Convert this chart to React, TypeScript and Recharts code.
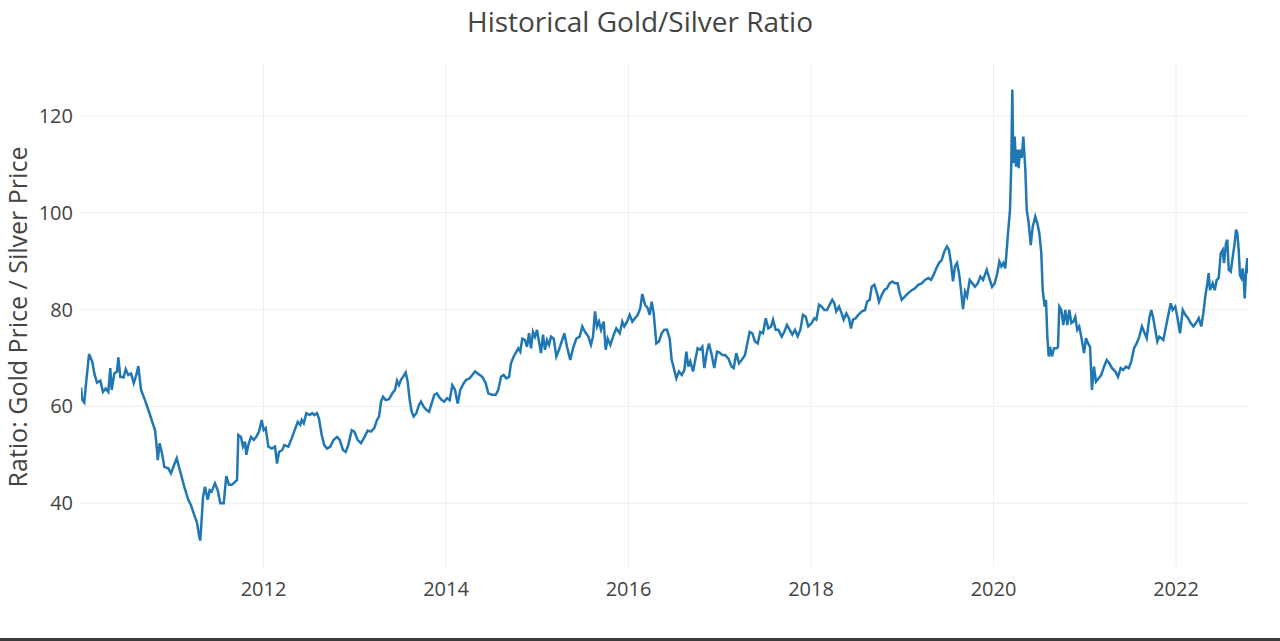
import React from 'react';
import { LineChart, Line, XAxis, YAxis, CartesianGrid } from 'recharts';

// decimal years
const years: number[] = [
    2010.000, 2010.014, 2010.036, 2010.052, 2010.088, 2010.124, 2010.146, 2010.175, 2010.212, 2010.241,
    2010.271, 2010.299, 2010.321, 2010.336, 2010.365, 2010.395, 2010.409, 2010.431, 2010.468, 2010.490,
    2010.518, 2010.548, 2010.578, 2010.606, 2010.628, 2010.658, 2010.701, 2010.745, 2010.781, 2010.811,
    2010.833, 2010.841, 2010.862, 2010.891, 2010.913, 2010.957, 2010.986, 2011.016, 2011.049, 2011.088,
    2011.132, 2011.176, 2011.205, 2011.235, 2011.271, 2011.293, 2011.307, 2011.323, 2011.337, 2011.359,
    2011.388, 2011.410, 2011.432, 2011.468, 2011.498, 2011.527, 2011.564, 2011.592, 2011.622, 2011.652,
    2011.688, 2011.710, 2011.724, 2011.753, 2011.775, 2011.797, 2011.812, 2011.833, 2011.863, 2011.893,
    2011.921, 2011.951, 2011.980, 2012.002, 2012.024, 2012.053, 2012.090, 2012.126, 2012.148, 2012.170,
    2012.206, 2012.228, 2012.272, 2012.309, 2012.375, 2012.403, 2012.419, 2012.441, 2012.469, 2012.506,
    2012.535, 2012.557, 2012.586, 2012.608, 2012.638, 2012.666, 2012.696, 2012.732, 2012.769, 2012.806,
    2012.835, 2012.871, 2012.901, 2012.929, 2012.967, 2012.995, 2013.032, 2013.068, 2013.105, 2013.142,
    2013.178, 2013.214, 2013.244, 2013.266, 2013.288, 2013.310, 2013.339, 2013.375, 2013.412, 2013.441,
    2013.463, 2013.485, 2013.507, 2013.529, 2013.558, 2013.580, 2013.602, 2013.624, 2013.646, 2013.675,
    2013.704, 2013.726, 2013.756, 2013.784, 2013.814, 2013.843, 2013.872, 2013.901, 2013.923, 2013.953,
    2013.981, 2014.011, 2014.041, 2014.069, 2014.099, 2014.128, 2014.157, 2014.194, 2014.222, 2014.260,
    2014.288, 2014.318, 2014.354, 2014.398, 2014.435, 2014.464, 2014.501, 2014.545, 2014.573, 2014.603,
    2014.632, 2014.661, 2014.691, 2014.712, 2014.742, 2014.792, 2014.814, 2014.836, 2014.866, 2014.888,
    2014.910, 2014.932, 2014.953, 2014.975, 2014.997, 2015.019, 2015.041, 2015.063, 2015.085, 2015.107,
    2015.129, 2015.151, 2015.180, 2015.209, 2015.238, 2015.268, 2015.297, 2015.326, 2015.362, 2015.392,
    2015.428, 2015.465, 2015.494, 2015.523, 2015.560, 2015.589, 2015.611, 2015.633, 2015.655, 2015.677,
    2015.699, 2015.728, 2015.750, 2015.772, 2015.801, 2015.838, 2015.866, 2015.904, 2015.932, 2015.954,
    2015.984, 2016.013, 2016.042, 2016.071, 2016.101, 2016.129, 2016.151, 2016.181, 2016.210, 2016.232,
    2016.254, 2016.276, 2016.305, 2016.334, 2016.364, 2016.392, 2016.422, 2016.451, 2016.473, 2016.502,
    2016.524, 2016.553, 2016.583, 2016.612, 2016.634, 2016.655, 2016.677, 2016.707, 2016.729, 2016.758,
    2016.787, 2016.809, 2016.831, 2016.860, 2016.882, 2016.912, 2016.940, 2016.970, 2016.999, 2017.028,
    2017.058, 2017.094, 2017.131, 2017.153, 2017.181, 2017.211, 2017.240, 2017.277, 2017.291, 2017.328,
    2017.357, 2017.386, 2017.416, 2017.444, 2017.474, 2017.504, 2017.532, 2017.562, 2017.584, 2017.613,
    2017.642, 2017.679, 2017.708, 2017.737, 2017.767, 2017.795, 2017.825, 2017.854, 2017.883, 2017.912,
    2017.942, 2017.970, 2018.008, 2018.036, 2018.058, 2018.088, 2018.117, 2018.146, 2018.175, 2018.205,
    2018.233, 2018.255, 2018.277, 2018.307, 2018.336, 2018.358, 2018.387, 2018.416, 2018.438, 2018.460,
    2018.490, 2018.518, 2018.556, 2018.592, 2018.614, 2018.643, 2018.665, 2018.694, 2018.723, 2018.745,
    2018.775, 2018.803, 2018.833, 2018.862, 2018.891, 2018.921, 2018.950, 2018.972, 2018.994, 2019.030,
    2019.066, 2019.104, 2019.140, 2019.176, 2019.213, 2019.249, 2019.286, 2019.315, 2019.345, 2019.373,
    2019.403, 2019.432, 2019.461, 2019.490, 2019.512, 2019.534, 2019.556, 2019.578, 2019.600, 2019.622,
    2019.644, 2019.666, 2019.688, 2019.710, 2019.739, 2019.768, 2019.797, 2019.827, 2019.856, 2019.885,
    2019.926, 2019.954, 2019.984, 2020.013, 2020.042, 2020.064, 2020.086, 2020.108, 2020.129, 2020.145,
    2020.159, 2020.181, 2020.195, 2020.206, 2020.217, 2020.232, 2020.247, 2020.261, 2020.276, 2020.290,
    2020.309, 2020.327, 2020.349, 2020.364, 2020.386, 2020.408, 2020.430, 2020.458, 2020.480, 2020.502,
    2020.524, 2020.539, 2020.561, 2020.575, 2020.590, 2020.605, 2020.619, 2020.641, 2020.663, 2020.693,
    2020.707, 2020.721, 2020.743, 2020.765, 2020.787, 2020.809, 2020.831, 2020.853, 2020.875, 2020.896,
    2020.918, 2020.940, 2020.962, 2020.992, 2021.014, 2021.036, 2021.058, 2021.079, 2021.101, 2021.123,
    2021.153, 2021.181, 2021.211, 2021.241, 2021.269, 2021.299, 2021.335, 2021.364, 2021.394, 2021.422,
    2021.452, 2021.482, 2021.510, 2021.540, 2021.569, 2021.598, 2021.627, 2021.657, 2021.679, 2021.707,
    2021.729, 2021.751, 2021.773, 2021.795, 2021.817, 2021.839, 2021.861, 2021.883, 2021.912, 2021.942,
    2021.964, 2021.992, 2022.014, 2022.044, 2022.074, 2022.102, 2022.132, 2022.161, 2022.190, 2022.219,
    2022.249, 2022.277, 2022.299, 2022.321, 2022.343, 2022.358, 2022.372, 2022.402, 2022.424, 2022.446,
    2022.468, 2022.490, 2022.512, 2022.526, 2022.548, 2022.562, 2022.578, 2022.600, 2022.622, 2022.643,
    2022.658, 2022.672, 2022.687, 2022.701, 2022.716, 2022.731, 2022.745, 2022.753, 2022.767, 2022.781,
    2022.789,
];

// gold price / silver price
const ratios: number[] = [
    63.9, 61.3, 60.8, 64.1, 70.8, 69.2, 66.8, 64.9, 65.3, 63.0,
    63.7, 63.0, 67.9, 63.4, 66.8, 67.2, 70.1, 66.1, 66.0, 67.7,
    66.5, 66.8, 64.8, 66.5, 68.3, 63.4, 61.3, 58.9, 56.8, 55.1,
    51.0, 48.9, 52.4, 50.0, 47.5, 47.2, 46.2, 47.7, 49.3, 46.5,
    43.4, 40.7, 39.6, 37.9, 36.0, 33.4, 32.3, 36.9, 41.3, 43.4,
    40.7, 42.7, 42.4, 44.1, 42.7, 40.0, 40.0, 45.6, 43.8, 43.8,
    44.4, 44.8, 54.1, 53.7, 51.7, 52.7, 50.0, 52.0, 53.7, 53.1,
    53.7, 54.8, 57.2, 55.1, 55.5, 51.7, 51.3, 51.7, 48.2, 50.6,
    51.0, 52.0, 51.7, 53.4, 56.8, 56.2, 57.2, 56.5, 58.6, 58.2,
    58.6, 58.2, 58.6, 57.5, 54.1, 52.0, 51.3, 51.7, 53.1, 53.7,
    53.1, 51.0, 50.6, 52.0, 55.1, 54.8, 53.1, 52.4, 53.6, 55.0,
    54.8, 55.5, 57.2, 57.9, 61.0, 62.0, 61.3, 61.5, 62.7, 63.4,
    65.3, 64.4, 65.5, 66.1, 67.0, 65.1, 61.3, 58.9, 57.9, 58.6,
    60.3, 61.0, 59.9, 59.3, 58.9, 60.6, 62.4, 62.7, 62.0, 61.3,
    61.0, 61.7, 61.3, 64.4, 63.4, 60.6, 63.4, 64.8, 65.5, 65.8,
    66.5, 67.2, 66.7, 66.1, 64.8, 62.7, 62.4, 62.4, 63.4, 66.1,
    66.5, 65.8, 66.1, 68.9, 70.3, 72.0, 71.3, 74.0, 73.7, 72.3,
    75.1, 72.0, 75.4, 74.4, 75.8, 73.4, 71.0, 74.8, 71.7, 73.7,
    72.7, 74.4, 74.0, 70.3, 71.7, 73.4, 75.1, 72.3, 69.6, 72.0,
    74.0, 74.4, 76.5, 75.4, 74.4, 72.7, 74.4, 79.6, 76.5, 77.5,
    75.8, 77.5, 71.7, 74.0, 72.7, 74.8, 76.1, 75.1, 77.5, 76.5,
    77.5, 78.9, 77.5, 78.2, 78.9, 80.3, 83.2, 81.0, 80.3, 78.9,
    81.6, 79.2, 73.0, 73.4, 75.1, 75.8, 75.8, 74.0, 69.6, 67.5,
    65.8, 67.2, 66.5, 67.5, 71.3, 68.2, 69.3, 67.2, 69.3, 72.0,
    71.7, 72.3, 67.9, 71.3, 73.0, 70.6, 67.9, 71.3, 71.1, 70.6,
    70.6, 69.9, 68.2, 67.9, 71.0, 68.9, 69.6, 70.6, 72.0, 75.4,
    75.1, 73.4, 73.0, 75.4, 75.1, 78.2, 76.1, 76.5, 77.9, 75.8,
    75.8, 74.4, 75.4, 76.8, 75.8, 74.8, 75.8, 74.5, 75.8, 78.9,
    78.5, 76.5, 77.2, 78.2, 77.9, 81.0, 80.6, 79.9, 79.9, 81.0,
    82.0, 81.3, 79.6, 80.6, 79.2, 77.9, 79.2, 78.2, 76.1, 77.9,
    78.2, 78.9, 79.6, 79.9, 81.6, 82.0, 84.7, 85.1, 83.4, 81.6,
    83.0, 84.0, 84.4, 85.4, 85.8, 85.4, 85.4, 83.4, 82.0, 82.7,
    83.4, 84.0, 84.4, 85.1, 85.4, 86.1, 86.5, 86.1, 87.2, 88.5,
    89.6, 90.2, 92.0, 93.0, 92.3, 89.6, 85.8, 88.9, 89.6, 87.5,
    84.0, 80.1, 83.7, 82.7, 86.1, 85.4, 84.7, 85.4, 86.8, 86.1,
    88.2, 86.5, 84.7, 85.4, 87.5, 89.9, 88.9, 89.6, 88.5, 92.3,
    95.8, 100.6, 110.2, 125.4, 110.2, 115.7, 109.5, 113.0, 109.2, 113.0,
    111.3, 115.7, 108.8, 100.6, 97.8, 93.3, 97.1, 99.2, 97.8, 95.8,
    91.6, 84.0, 80.6, 82.0, 74.4, 70.3, 72.3, 70.3, 72.0, 72.0,
    72.3, 80.6, 79.9, 76.8, 79.9, 76.8, 79.9, 77.2, 77.5, 78.5,
    75.8, 76.5, 74.4, 71.0, 74.1, 73.0, 72.3, 63.4, 68.2, 65.1,
    65.8, 66.5, 68.2, 69.6, 68.9, 67.9, 67.2, 66.1, 67.9, 67.5,
    68.2, 67.9, 69.3, 72.0, 73.0, 74.4, 76.5, 75.1, 74.1, 78.2,
    79.9, 78.2, 75.8, 73.4, 74.4, 74.1, 73.7, 75.8, 78.5, 81.3,
    79.9, 80.6, 78.5, 75.1, 79.9, 78.9, 78.2, 77.2, 76.5, 77.2,
    78.2, 76.5, 79.2, 82.7, 85.4, 87.5, 84.0, 85.4, 84.0, 86.1,
    86.5, 91.6, 92.3, 89.6, 93.7, 94.4, 88.2, 87.8, 90.9, 93.7,
    96.5, 95.8, 92.3, 87.1, 86.5, 88.5, 85.4, 82.3, 87.8, 90.6,
    87.5,
];

const xTicks = [2012, 2014, 2016, 2018, 2020, 2022];
const yTicks = [40, 60, 80, 100, 120];

const data = years.map((t, i) => ({ t, ratio: ratios[i] }));

const font = '"Open Sans", sans-serif';
const textColor = '#444';

const App: React.FC = () => {
    return (
        <div style={{ position: 'absolute', left: 0, top: 0, width: 1280, height: 641, background: '#fff', fontFamily: font }}>
            {/* Title */}
            <div style={{ position: 'absolute', top: 3, left: 0, width: 1280, textAlign: 'center', fontSize: 28, color: textColor, lineHeight: '36px' }}>
                Historical Gold/Silver Ratio
            </div>

            {/* Y axis title, rotated */}
            <div style={{ position: 'absolute', left: 16.5, top: 317, width: 0, height: 0 }}>
                <div style={{ position: 'absolute', left: 0, top: 0, transform: 'translate(-50%, -50%) rotate(-90deg)', whiteSpace: 'nowrap', fontSize: 25, color: textColor }}>
                    Ratio: Gold Price / Silver Price
                </div>
            </div>

            <LineChart width={1280} height={641} data={data} margin={{ top: 63, right: 32, bottom: 34, left: 0 }}>
                <CartesianGrid stroke="#eee" strokeWidth={1} syncWithTicks />
                <XAxis
                    dataKey="t"
                    type="number"
                    domain={[2010.0, 2022.789]}
                    ticks={xTicks}
                    allowDataOverflow
                    axisLine={false}
                    tickLine={false}
                    tickMargin={9}
                    height={40}
                    tick={{ fill: textColor, fontSize: 20, fontFamily: font }}
                />
                <YAxis
                    type="number"
                    domain={[26.84, 130.9]}
                    ticks={yTicks}
                    allowDataOverflow
                    axisLine={false}
                    tickLine={false}
                    width={81}
                    tick={{ fill: textColor, fontSize: 20, fontFamily: font }}
                />
                <Line
                    type="linear"
                    dataKey="ratio"
                    stroke="#1f77b4"
                    strokeWidth={2.5}
                    dot={false}
                    isAnimationActive={false}
                />
            </LineChart>

            {/* dark rule along the bottom edge */}
            <div style={{ position: 'absolute', left: 0, top: 638, width: 1280, height: 3, background: '#3a3a3a' }} />
        </div>
    );
};

export default App;
